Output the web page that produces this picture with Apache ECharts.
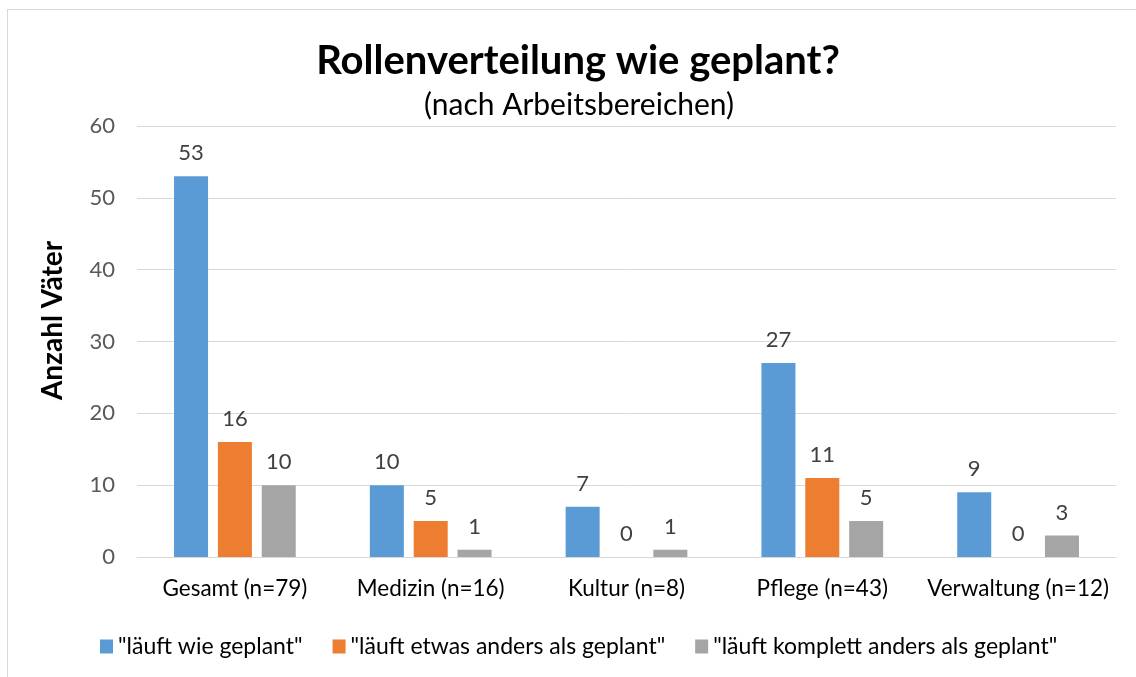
<!DOCTYPE html>
<html>
<head>
<meta charset="utf-8">
<script src="https://cdn.jsdelivr.net/npm/echarts@6/dist/echarts.min.js"></script>
<style>
  html, body { margin: 0; padding: 0; background: #fff; }
  #frame { position: absolute; left: 7px; top: 9px; width: 1140px; height: 680px; border: 1px solid #d9d9d9; box-sizing: border-box; }
  #chart { position: absolute; left: 0; top: 0; width: 1136px; height: 677px; }
</style>
</head>
<body>
<div id="frame"></div>
<div id="chart"></div>
<script>
// Kategorien und Werte
const categories = ['Gesamt (n=79)', 'Medizin (n=16)', 'Kultur (n=8)', 'Pflege (n=43)', 'Verwaltung (n=12)'];
const seriesNames = ['"läuft wie geplant"', '"läuft etwas anders als geplant"', '"läuft komplett anders als geplant"'];
const wieGeplant = [53, 10, 7, 27, 9];
const etwasAnders = [16, 5, 0, 11, 0];
const komplettAnders = [10, 1, 1, 5, 3];
const colors = ['#5b9bd5', '#ed7d31', '#a5a5a5'];

const font = 'Lato, "Open Sans", sans-serif';
const chart = echarts.init(document.getElementById('chart'), null, { renderer: 'canvas' });

function makeSeries(name, data, color) {
  return {
    name: name,
    type: 'bar',
    data: data,
    barWidth: 34,
    barGap: '29%',
    itemStyle: { color: color },
    label: {
      show: true,
      position: 'top',
      distance: 12,
      color: '#404040',
      fontSize: 22,
      fontFamily: font
    }
  };
}

const option = {
  animation: false,
  title: [
    {
      text: 'Rollenverteilung wie geplant?',
      left: 573,
      top: 36,
      textAlign: 'center',
      textStyle: { fontSize: 40, fontWeight: 'bold', color: '#000', fontFamily: font }
    },
    {
      text: '(nach Arbeitsbereichen)',
      left: 574,
      top: 85,
      textAlign: 'center',
      textStyle: { fontSize: 30, fontWeight: 'normal', color: '#000', fontFamily: font }
    }
  ],
  legend: {
    data: seriesNames,
    top: 630,
    left: 95,
    itemWidth: 13,
    itemHeight: 14,
    itemGap: 30,
    icon: 'rect',
    textStyle: { fontSize: 23, color: '#000', fontFamily: font }
  },
  grid: { left: 137, right: 20, top: 126, bottom: 120, containLabel: false },
  xAxis: {
    type: 'category',
    data: categories,
    axisLine: { lineStyle: { color: '#d9d9d9', width: 1 } },
    axisTick: { show: false },
    axisLabel: { interval: 0, hideOverlap: false, fontSize: 22.5, color: '#000', margin: 20, fontFamily: font }
  },
  yAxis: {
    type: 'value',
    min: 0,
    max: 60,
    interval: 10,
    name: 'Anzahl Väter',
    nameLocation: 'middle',
    nameGap: 70,
    nameTextStyle: { fontSize: 28, fontWeight: 'bold', color: '#000', fontFamily: font, padding: [0, 0, 0, 42] },
    axisLine: { show: false },
    axisTick: { show: false },
    axisLabel: { fontSize: 22, color: '#595959', margin: 22, fontFamily: font },
    splitLine: { lineStyle: { color: '#d9d9d9', width: 1 } }
  },
  series: [
    makeSeries(seriesNames[0], wieGeplant, colors[0]),
    makeSeries(seriesNames[1], etwasAnders, colors[1]),
    makeSeries(seriesNames[2], komplettAnders, colors[2])
  ]
};

chart.setOption(option);
</script>
</body>
</html>
